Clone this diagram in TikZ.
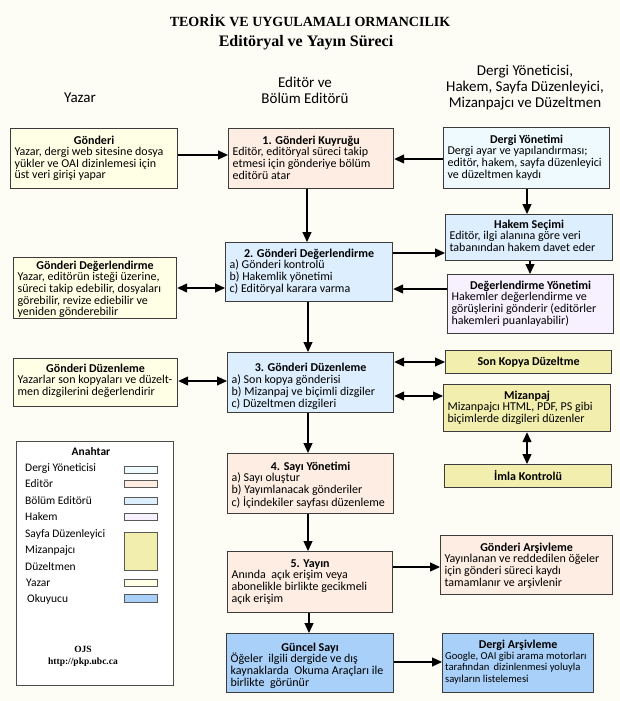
\documentclass[tikz,border=0pt]{standalone}
\usepackage{fontspec}
\setmainfont{Carlito}
\newfontfamily\titlefont{Liberation Serif}
\usetikzlibrary{arrows.meta}
\definecolor{bg}{HTML}{FDFDF6}
\definecolor{bordc}{HTML}{3C3C3C}
\definecolor{cYazar}{HTML}{FFFFE5}
\definecolor{cEditor}{HTML}{FDEDE2}
\definecolor{cBolum}{HTML}{DDEEFE}
\definecolor{cDergi}{HTML}{EEFAFE}
\definecolor{cHakem}{HTML}{F6F0FF}
\definecolor{cYellow}{HTML}{F2EEAE}
\definecolor{cOkuyucu}{HTML}{A8D0F8}
\newcommand{\boxfont}{\fontsize{12}{11.4}\selectfont}
\newcommand{\legfont}{\fontsize{11.5}{13}\selectfont}
\newcommand{\ttl}[1]{\par\noindent\makebox[\linewidth][c]{\rule{0pt}{8pt}\smash{\bfseries #1}}\par}
\newcommand{\bd}[1]{\noindent\begin{tabular}[t]{@{}l@{}}#1\end{tabular}}
\newcommand{\mybox}[8]{%
  \node[boxs, fill=#2] (#1) at (#3,#4)
  {\parbox[c][\dimexpr#6pt-#4pt\relax][t]{\dimexpr#5pt-#3pt-8pt\relax}{\vspace*{\dimexpr#7pt-8pt\relax}#8}};}
\tikzset{
  boxs/.style={draw=bordc, line width=1.2pt, inner xsep=4pt, inner ysep=0pt, anchor=north west, font=\boxfont},
  arr/.style={line width=1.2pt, draw=black, -{Triangle[length=10pt,width=9pt]}},
  darr/.style={line width=1.2pt, draw=black, {Triangle[length=10pt,width=9pt]}-{Triangle[length=10pt,width=9pt]}},
  head/.style={font=\fontsize{15}{16}\selectfont, align=center, inner sep=0pt},
  leg/.style={font=\legfont, anchor=west, inner sep=0pt},
  sw/.style={draw=black!65, line width=0.8pt, minimum width=33pt, minimum height=7pt, inner sep=0pt},
}
\begin{document}
\begin{tikzpicture}[x=1pt,y=-1pt]
\fill[bg] (0,0) rectangle (620,701);
\useasboundingbox (0,0) rectangle (620,701);

\node[font=\titlefont\bfseries\fontsize{14}{16}\selectfont, inner sep=0pt] (title1) at (310,21) {TEORİK VE UYGULAMALI ORMANCILIK};
\node[font=\titlefont\bfseries\fontsize{16}{18}\selectfont, inner sep=0pt] (title2) at (306,43) {Editöryal ve Yayın Süreci};

\node[head] (hY) at (80,98) {Yazar};
\node[head] (hE) at (305,90) {Editör ve\\Bölüm Editörü};
\node[head] (hR) at (525,88) {Dergi Yöneticisi,\\Hakem, Sayfa Düzenleyici,\\Mizanpajcı ve Düzeltmen};

\mybox{gonderi}{cYazar}{10}{128}{177}{188}{15.5}{\ttl{Gönderi}\bd{Yazar, dergi web sitesine dosya\\yükler ve OAI dizinlemesi için\\üst veri girişi yapar}}
\mybox{kuyruk}{cEditor}{228}{128}{393}{188}{15.5}{\ttl{1. Gönderi Kuyruğu}\bd{Editör, editöryal süreci takip\\etmesi için gönderiye bölüm\\editörü atar}}
\mybox{dyon}{cDergi}{443}{127}{609}{188}{15.5}{\ttl{Dergi Yönetimi}\bd{Dergi ayar ve yapılandırması;\\editör, hakem, sayfa düzenleyici\\ve düzeltmen kaydı}}
\mybox{hsec}{cBolum}{445}{214}{612}{260}{13.5}{\ttl{Hakem Seçimi}\bd{Editör, ilgi alanına göre veri\\tabanından hakem davet eder}}
\mybox{dyonh}{cHakem}{447}{274}{613}{333}{14.5}{\ttl{Değerlendirme Yönetimi}\bd{Hakemler değerlendirme ve\\görüşlerini gönderir (editörler\\hakemleri puanlayabilir)}}
\mybox{gdeg}{cBolum}{225}{242}{392}{301}{14.5}{\ttl{2. Gönderi Değerlendirme}\bd{a) Gönderi kontrolü\\b) Hakemlik yönetimi\\c) Editöryal karara varma}}
\mybox{ydeg}{cYazar}{13}{257}{176}{318}{11.5}{\ttl{Gönderi Değerlendirme}\bd{Yazar, editörün isteği üzerine,\\süreci takip edebilir, dosyaları\\görebilir, revize ediebilir ve\\yeniden gönderebilir}}
\mybox{gduz}{cBolum}{227}{352}{393}{412}{19}{\ttl{3. Gönderi Düzenleme}\bd{a) Son kopya gönderisi\\b) Mizanpaj ve biçimli dizgiler\\c) Düzeltmen dizgileri}}
\mybox{yduz}{cYazar}{13}{358}{177}{406}{13.5}{\ttl{Gönderi Düzenleme}\bd{Yazarlar son kopyaları ve düzelt-\\men dizgilerini değerlendirir}}
\mybox{sonk}{cYellow}{445}{350}{611}{373}{14.5}{\ttl{Son Kopya Düzeltme}}
\mybox{miz}{cYellow}{443}{384}{610}{431}{14.5}{\ttl{Mizanpaj}\bd{Mizanpajcı HTML, PDF, PS gibi\\biçimlerde dizgileri düzenler}}
\mybox{imla}{cYellow}{444}{464}{611}{487}{15.5}{\ttl{İmla Kontrolü}}
\mybox{sayi}{cEditor}{227}{453}{393}{513}{16.5}{\ttl{4. Sayı Yönetimi}\bd{a) Sayı oluştur\\b) Yayımlanacak gönderiler\\c) İçindekiler sayfası düzenleme}}
\mybox{yayin}{cEditor}{227}{551}{392}{612}{15.5}{\ttl{5. Yayın}\bd{Anında\ \ açık erişim veya\\abonelikle birlikte gecikmeli\\açık erişim}}
\mybox{garsiv}{cEditor}{440}{535}{612}{594}{15.5}{\ttl{Gönderi Arşivleme}\bd{Yayınlanan ve reddedilen öğeler\\için gönderi süreci kaydı\\tamamlanır ve arşivlenir}}
\mybox{guncel}{cOkuyucu}{226}{633}{393}{692}{17.5}{\ttl{Güncel Sayı}\bd{Öğeler\ \ ilgili dergide ve dış\\kaynaklarda\ \ Okuma Araçları ile\\birlikte\ \ görünür}}
\mybox{darsiv}{cOkuyucu}{442}{633}{593}{692}{14.5}{\ttl{Dergi Arşivleme}\hspace*{-1.5pt}\fontsize{10.6}{11.4}\selectfont\bd{Google, OAI gibi arama motorları\\tarafından\,\ dizinlenmesi yoluyla\\sayıların listelemesi}}

\draw[arr] (gonderi.east |- 0,155) -- (kuyruk.west |- 0,155);
\draw[arr] (dyon.west |- 0,159) -- (kuyruk.east |- 0,159);
\draw[arr] (kuyruk.south -| 307,0) -- (gdeg.north -| 307,0);
\draw[arr] (dyon.south -| 527,0) -- (hsec.north -| 527,0);
\draw[arr] (gdeg.east |- 0,253) -- (hsec.west |- 0,253);
\draw[arr] (hsec.south -| 530,0) -- (dyonh.north -| 530,0);
\draw[arr] (dyonh.west |- 0,289) -- (gdeg.east |- 0,289);
\draw[darr] (ydeg.east |- 0,288) -- (gdeg.west |- 0,288);
\draw[arr] (gdeg.south -| 308,0) -- (gduz.north -| 308,0);
\draw[darr] (yduz.east |- 0,381) -- (gduz.west |- 0,381);
\draw[darr] (gduz.east |- 0,362) -- (sonk.west |- 0,362);
\draw[darr] (gduz.east |- 0,396) -- (miz.west |- 0,396);
\draw[darr] (miz.south -| 527,0) -- (imla.north -| 527,0);
\draw[arr] (gduz.south -| 308,0) -- (sayi.north -| 308,0);
\draw[arr] (sayi.south -| 308,0) -- (yayin.north -| 308,0);
\draw[arr] (yayin.east |- 0,567) -- (garsiv.west |- 0,567);
\draw[arr] (yayin.south -| 309,0) -- (guncel.north -| 309,0);
\draw[arr] (guncel.east |- 0,662) -- (darsiv.west |- 0,662);

% legend
\node[draw=black!70, line width=0.9pt, fill=white, minimum width=157pt, minimum height=244pt, anchor=north west, inner sep=0pt] (legend) at (16,441) {};
\node[font=\legfont\bfseries, inner sep=0pt] (lt) at (91,452) {Anahtar};
\node[leg] (l1) at (25,469) {Dergi Yöneticisi};
\node[leg] (l2) at (25,484) {Editör};
\node[leg] (l3) at (25,501) {Bölüm Editörü};
\node[leg] (l4) at (25,517) {Hakem};
\node[leg] (l5) at (25,534) {Sayfa Düzenleyici};
\node[leg] (l6) at (25,551) {Mizanpajcı};
\node[leg] (l7) at (25,567) {Düzeltmen};
\node[leg] (l8) at (26,583) {Yazar};
\node[leg] (l9) at (27,599) {Okuyucu};
\node[sw, fill=cDergi] (s1) at (140.5,469.5) {};
\node[sw, fill=cEditor] (s2) at (140.5,484) {};
\node[sw, fill=cBolum] (s3) at (140.5,500.5) {};
\node[sw, fill=cHakem] (s4) at (140.5,516.5) {};
\node[sw, fill=cYellow, minimum height=38pt] (s5) at (140.5,551) {};
\node[sw, fill=cYazar] (s6) at (140.5,582.5) {};
\node[sw, fill=cOkuyucu, minimum height=8pt] (s7) at (140.5,598) {};
\node[font=\titlefont\bfseries\fontsize{9.5}{12}\selectfont, align=center, inner sep=0pt] (ojs) at (83,656) {OJS\\http://pkp.ubc.ca};
\end{tikzpicture}
\end{document}
